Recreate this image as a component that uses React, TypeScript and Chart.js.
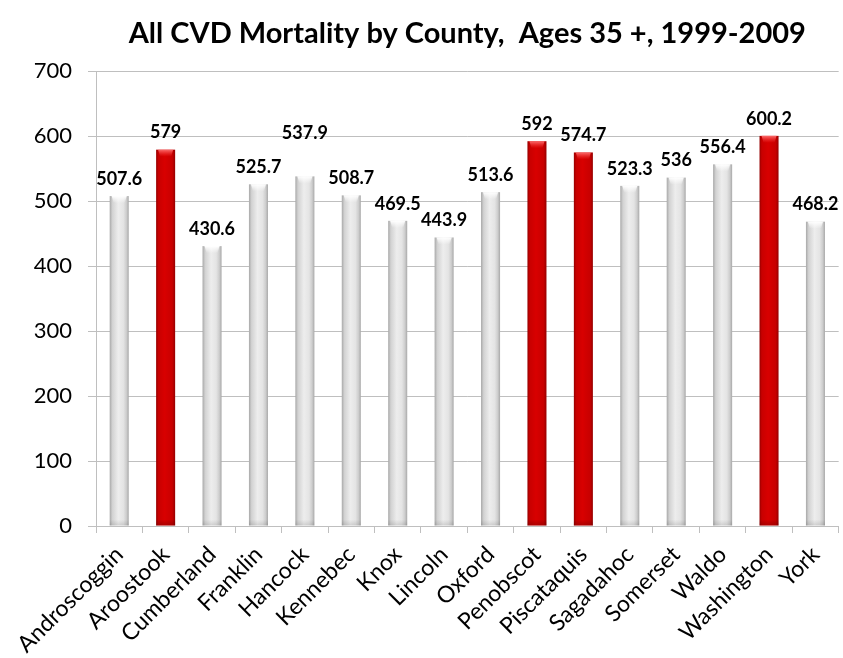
import React, { useEffect, useRef } from 'react';
import { Chart, registerables } from 'chart.js';

Chart.register(...registerables);

const TITLE = 'All CVD Mortality by County,  Ages 35 +, 1999-2009';

const counties = [
  'Androscoggin', 'Aroostook', 'Cumberland', 'Franklin', 'Hancock', 'Kennebec',
  'Knox', 'Lincoln', 'Oxford', 'Penobscot', 'Piscataquis', 'Sagadahoc',
  'Somerset', 'Waldo', 'Washington', 'York',
];

const mortality = [
  507.6, 579, 430.6, 525.7, 537.9, 508.7,
  469.5, 443.9, 513.6, 592, 574.7, 523.3,
  536, 556.4, 600.2, 468.2,
];

const highlighted = ['Aroostook', 'Penobscot', 'Piscataquis', 'Washington'];

// extra lift of a value label above its bar (px), as placed in the original
const labelLift = [0, 0, 0, 0, 26, 0, 0, 0, 0, 0, 0, 0, 0, 0, 0, 0];

const Y_MIN = 0;
const Y_MAX = 700;
const Y_STEP = 100;

const FONT = 'Lato, "Open Sans", sans-serif';

const cylinderPlugin = {
  id: 'cylinderBars',
  afterDatasetsDraw(chart: any) {
    const ctx = chart.ctx;
    const meta = chart.getDatasetMeta(0);
    ctx.save();
    meta.data.forEach((el: any, i: number) => {
      const { x, y, base, width } = el.getProps(['x', 'y', 'base', 'width'], true);
      const l = x - width / 2;
      const r = x + width / 2;
      const h = base - y;
      const red = highlighted.includes(counties[i]);
      const g = ctx.createLinearGradient(l, 0, r, 0);
      if (red) {
        g.addColorStop(0, '#960000');
        g.addColorStop(0.12, '#c80000');
        g.addColorStop(0.45, '#d80000');
        g.addColorStop(0.85, '#c80000');
        g.addColorStop(1, '#960000');
      } else {
        g.addColorStop(0, '#a8a8a8');
        g.addColorStop(0.14, '#d2d2d2');
        g.addColorStop(0.45, '#ededed');
        g.addColorStop(0.72, '#e4e4e4');
        g.addColorStop(0.88, '#cdcdcd');
        g.addColorStop(1, '#a8a8a8');
      }
      ctx.fillStyle = g;
      ctx.fillRect(l, y, width, h);

      // top cap highlight
      const capH = Math.min(7, h);
      const gc = ctx.createLinearGradient(0, y, 0, y + capH);
      if (red) {
        gc.addColorStop(0, 'rgba(255,120,120,0.9)');
        gc.addColorStop(1, 'rgba(255,60,60,0)');
      } else {
        gc.addColorStop(0, 'rgba(255,255,255,1)');
        gc.addColorStop(1, 'rgba(255,255,255,0)');
      }
      ctx.fillStyle = gc;
      ctx.beginPath();
      ctx.moveTo(l + 2, y);
      ctx.lineTo(r - 2, y);
      ctx.lineTo(r - 4, y + capH);
      ctx.lineTo(l + 4, y + capH);
      ctx.closePath();
      ctx.fill();

      // bottom shading
      const bh = Math.min(6, h);
      const gb = ctx.createLinearGradient(0, base - bh, 0, base);
      gb.addColorStop(0, 'rgba(0,0,0,0)');
      gb.addColorStop(1, red ? 'rgba(60,0,0,0.25)' : 'rgba(0,0,0,0.12)');
      ctx.fillStyle = gb;
      ctx.fillRect(l, base - bh, width, bh);

      // value label
      ctx.fillStyle = '#000';
      ctx.font = `bold 18px ${FONT}`;
      ctx.textAlign = 'center';
      ctx.textBaseline = 'middle';
      ctx.fillText(String(mortality[i]), x, y - 17 - labelLift[i]);
    });
    ctx.restore();
  },
};

const titlePlugin = {
  id: 'centeredTitle',
  afterDraw(chart: any) {
    const ctx = chart.ctx;
    const area = chart.chartArea;
    ctx.save();
    ctx.fillStyle = '#000';
    ctx.font = `bold 29px ${FONT}`;
    ctx.textAlign = 'center';
    ctx.textBaseline = 'middle';
    ctx.fillText(TITLE, (area.left + area.right) / 2, 34);
    ctx.restore();
  },
};

export default function App() {
  const ref = useRef<HTMLCanvasElement>(null);

  useEffect(() => {
    document.body.style.margin = '0';
    const canvas = ref.current;
    if (!canvas) return;
    const chart = new Chart(canvas, {
      type: 'bar',
      data: {
        labels: counties,
        datasets: [
          {
            data: mortality,
            backgroundColor: 'rgba(0,0,0,0)',
            borderWidth: 0,
            categoryPercentage: 1,
            barPercentage: 0.41,
          },
        ],
      },
      options: {
        responsive: false,
        animation: false,
        layout: { padding: { top: 71, right: 1, left: 0, bottom: 0 } },
        plugins: {
          legend: { display: false },
          title: { display: false },
          tooltip: { enabled: false },
        },
        scales: {
          x: {
            grid: {
              drawOnChartArea: false,
              drawTicks: true,
              tickLength: 7,
              color: '#bfbfbf',
            },
            border: { color: '#bfbfbf' },
            ticks: {
              maxRotation: 45,
              minRotation: 45,
              color: '#000',
              font: { family: FONT, size: 23 },
              padding: 8,
            },
            afterFit(scale: any) {
              scale.height = 132;
            },
          },
          y: {
            min: Y_MIN,
            max: Y_MAX,
            grid: { color: '#bfbfbf', tickLength: 8 },
            border: { color: '#bfbfbf' },
            ticks: {
              stepSize: Y_STEP,
              color: '#000',
              font: { family: FONT, size: 22 },
              padding: 16,
            },
            afterFit(scale: any) {
              scale.width = 96;
            },
          },
        },
      },
      plugins: [cylinderPlugin, titlePlugin],
    });
    return () => chart.destroy();
  }, []);

  return (
    <div style={{ width: 843, height: 658 }}>
      <canvas ref={ref} width={843} height={658} style={{ display: 'block' }} />
    </div>
  );
}
